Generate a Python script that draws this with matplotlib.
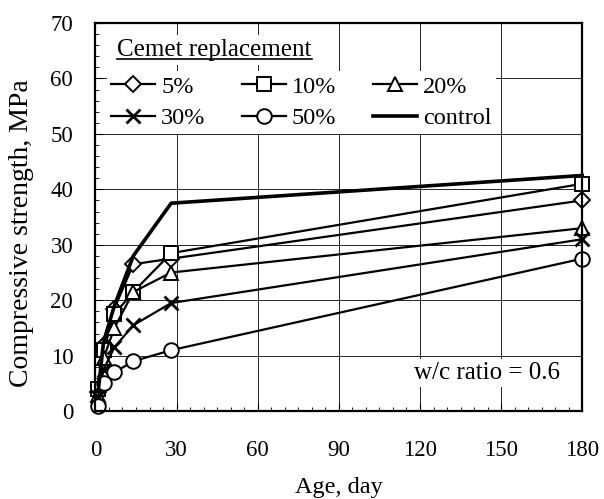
import numpy as np
import matplotlib
matplotlib.use("Agg")
import matplotlib.pyplot as plt
from matplotlib.lines import Line2D
from matplotlib.ticker import MultipleLocator

plt.rcParams['font.family'] = ['Liberation Serif', 'DejaVu Serif']

# ages in days
ages = [1, 3, 7, 14, 28, 180]

s5 = [3.5, 12, 18.5, 26.5, 27.5, 38]
s10 = [4, 11, 17.5, 21.5, 28.5, 41]
s20 = [3, 9.5, 15, 21.5, 25, 33]
s30 = [2.5, 7.5, 11.5, 15.5, 19.5, 31]
s50 = [1, 5, 7, 9, 11, 27.5]
control = [3.5, 12.5, 19, 28, 37.5, 42.5]

labels = ["5%", "10%", "20%", "30%", "50%", "control"]
xticks = [0, 30, 60, 90, 120, 150, 180]
yticks = [0, 10, 20, 30, 40, 50, 60, 70]

fig = plt.figure(figsize=(6.04, 4.99), dpi=100)
ax = fig.add_axes([0.158, 0.176, 0.806, 0.778])

mk = dict(color='black', lw=1.6, markersize=10.5, markerfacecolor='white',
          markeredgecolor='black', markeredgewidth=1.4, clip_on=False)
ax.plot(ages, s5, marker='D', label=labels[0], **{**mk, 'markersize': 8.5})
ax.plot(ages, s10, marker='s', label=labels[1], **mk)
ax.plot(ages, s20, marker='^', label=labels[2], **mk)
ax.plot(ages, s30, marker='x', label=labels[3], **{**mk, 'markeredgewidth': 2})
ax.plot(ages, s50, marker='o', label=labels[4], **mk)
ax.plot(ages, control, color='black', lw=2.6, label=labels[5], clip_on=False)

ax.set_xlim(0, 180)
ax.set_ylim(0, 70)
ax.set_xticks(xticks)
ax.set_yticks(yticks)
ax.xaxis.set_minor_locator(MultipleLocator(5))
ax.yaxis.set_minor_locator(MultipleLocator(2))
ax.tick_params(which='both', direction='in', top=False, right=False)
ax.tick_params(which='major', length=6, labelsize=16.5)
ax.tick_params(axis='x', which='major', pad=21)
ax.tick_params(axis='y', which='major', pad=16)
ax.tick_params(which='minor', length=3)
ax.grid(True, which='major', color='black', lw=0.6)
for s in ax.spines.values():
    s.set_linewidth(1.6)

ax.set_xlabel("Age, day", fontsize=17.5, labelpad=11)
ax.set_ylabel("Compressive strength, MPa", fontsize=20)
ax.yaxis.set_label_coords(-0.127, 0.459)

handles, labs = ax.get_legend_handles_labels()
order = [0, 3, 1, 4, 2, 5]
leg = ax.legend([handles[i] for i in order], [labs[i] for i in order],
                ncol=3, loc='upper left', bbox_to_anchor=(-0.002, 0.908),
                fontsize=17.5, frameon=True, framealpha=1, edgecolor='none',
                fancybox=False, handlelength=1.8, handletextpad=0.25,
                columnspacing=1.5, labelspacing=0.4, borderpad=0.2)
leg.get_frame().set_facecolor('white')

title = ax.text(0.045, 0.915, "Cemet replacement", transform=ax.transAxes,
                fontsize=18, ha='left', va='baseline', zorder=6,
                bbox=dict(facecolor='white', edgecolor='none', pad=3))

ax.text(144.6, 6.9, "w/c ratio = 0.6", fontsize=18, ha='center', va='center',
        bbox=dict(facecolor='white', edgecolor='none', pad=2))

# underline the title
fig.canvas.draw()
bb = title.get_window_extent()
inv = fig.transFigure.inverted()
x0, y0 = inv.transform((bb.x0, bb.y0))
x1, _ = inv.transform((bb.x1, bb.y0))
fig.add_artist(Line2D([x0, x1], [y0 + 0.003, y0 + 0.003], color='black', lw=1.2,
                      transform=fig.transFigure))

fig.savefig("out.png", dpi=100)
